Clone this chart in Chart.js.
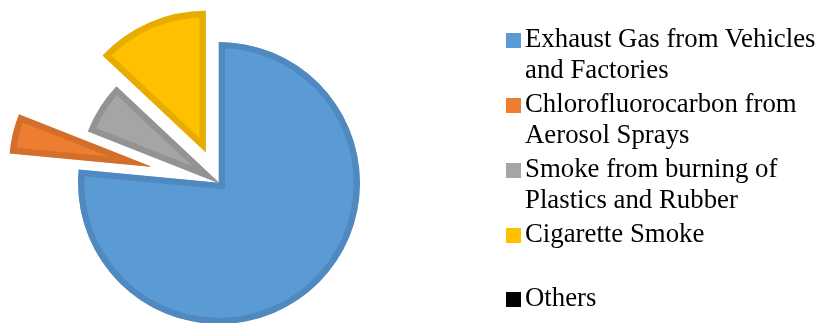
<!DOCTYPE html>
<html>
<head>
<meta charset="utf-8">
<script src="https://cdn.jsdelivr.net/npm/chart.js@4/dist/chart.umd.min.js"></script>
<style>
    html, body { margin: 0; padding: 0; background: #fff; }
    .wrap { position: relative; width: 818px; height: 323px; overflow: hidden; }
    .wrap canvas { position: absolute; left: 0; top: 0; }
    /* legend on the right, wrapped like the original */
    .pie-legend {
        position: absolute;
        left: 506px;
        top: 23px;
        width: 312px;
        font-family: "Liberation Serif", "Times New Roman", serif;
        font-size: 26.8px;
        line-height: 31px;
        color: #000;
    }
    .pie-legend .item { position: relative; padding-left: 19px; margin-bottom: 3px; }
    .pie-legend .item.last { margin-top: 33px; }
    .pie-legend .swatch { position: absolute; left: 0; top: 10px; width: 15px; height: 15px; }
</style>
</head>
<body>
<div class="wrap">
    <canvas id="chart" width="818" height="323"></canvas>
    <div class="pie-legend" id="legend"></div>
</div>
<script>
// data
const labels = [
    'Exhaust Gas from Vehicles and Factories',
    'Chlorofluorocarbon from Aerosol Sprays',
    'Smoke from burning of Plastics and Rubber',
    'Cigarette Smoke',
    'Others'
];
const shares = [76.5, 4.5, 6, 13, 0];

// styles
const fillColors = ['#5B9BD5', '#ED7D31', '#A5A5A5', '#FFC000', '#000000'];
const edgeColors = ['#4F89BF', '#D46F2B', '#939393', '#E6AC00', '#000000'];
const explodeBy = [0, 71, 0, 34, 0];   // px each slice is pulled out

// push slices out along their middle angle (Chart.js "offset" also shrinks/grows them)
const explodePlugin = {
    id: 'explode',
    afterDatasetsUpdate(chart) {
        const meta = chart.getDatasetMeta(0);
        meta.data.forEach((arc, i) => {
            const d = explodeBy[i] || 0;
            if (!d) return;
            const mid = (arc.startAngle + arc.endAngle) / 2;
            arc.x += Math.cos(mid) * d;
            arc.y += Math.sin(mid) * d;
        });
    }
};

new Chart(document.getElementById('chart'), {
    type: 'pie',
    data: {
        labels: labels,
        datasets: [{
            data: shares,
            backgroundColor: fillColors,
            borderColor: edgeColors,
            borderWidth: 6,
            borderAlign: 'inner',
            borderJoinStyle: 'miter',
            radius: 141
        }]
    },
    options: {
        responsive: false,
        animation: false,
        events: [],
        layout: { padding: { left: 0, right: 380, top: 43, bottom: 0 } },
        plugins: {
            legend: { display: false },
            tooltip: { enabled: false }
        }
    },
    plugins: [explodePlugin]
});

// html legend from the same arrays
const legendEl = document.getElementById('legend');
labels.forEach((name, i) => {
    const item = document.createElement('div');
    item.className = 'item' + (i === labels.length - 1 ? ' last' : '');
    const sw = document.createElement('span');
    sw.className = 'swatch';
    sw.style.background = fillColors[i];
    item.appendChild(sw);
    item.appendChild(document.createTextNode(name));
    legendEl.appendChild(item);
});
</script>
</body>
</html>
